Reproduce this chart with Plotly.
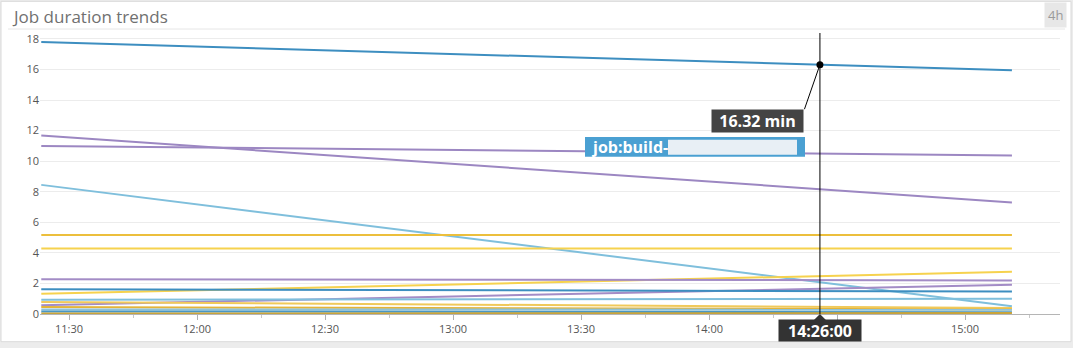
import numpy as np
import pandas as pd
import plotly.graph_objects as go

# ---------------- data ----------------
t_start = "2024-05-14 11:23:30"
t_end = "2024-05-14 15:11:00"
hover_time = "2024-05-14 14:26:00"

series_start = [17.80, 11.68, 11.00, 8.45, 5.17, 4.28, 1.32, 2.27, 0.58, 1.62, 0.93, 0.78, 0.45, 0.30, 0.17, 0.03]
series_end = [15.95, 7.30, 10.38, 0.50, 5.17, 4.28, 2.77, 2.20, 1.92, 1.47, 0.99, 0.40, 0.30, 0.28, 0.12, 0.06]
series_color = ["#3d8ec0", "#9c87c2", "#9c87c2", "#7fbfdc", "#ecbf3c", "#f6d24e",
                "#f6d24e", "#a38cc6", "#a38cc6", "#3d8ec0", "#7fbfdc", "#f0c95a",
                "#e3b43a", "#8fc3d8", "#4a97c4", "#c9a43a"]
hover_series = 0  # index of the series under the cursor

x_tick_times = ["11:30", "12:00", "12:30", "13:00", "13:30", "14:00", "14:30", "15:00"]

# ---------------- layout geometry ----------------
W, H = 1073, 348
L, R, T, B = 40, 13, 33, 31
PW, PH = W - L - R, H - T - B


def px(x):
    return (x - L) / PW


def py(y):
    return (H - B - y) / PH


times = pd.to_datetime([t_start, t_end])
fig = go.Figure()
for s, e, c in zip(series_start, series_end, series_color):
    fig.add_trace(go.Scatter(x=times, y=[s, e], mode="lines",
                             line=dict(color=c, width=2), hoverinfo="skip",
                             showlegend=False))

# hover point, interpolated on the hovered series
ht = pd.Timestamp(hover_time)
tnum = times.astype("int64").to_numpy()
hv = float(np.interp(ht.value, tnum, [series_start[hover_series], series_end[hover_series]]))
fig.add_trace(go.Scatter(x=[ht], y=[hv], mode="markers",
                         marker=dict(color="black", size=7), showlegend=False,
                         hoverinfo="skip", cliponaxis=False))

day = "2024-05-14 "
tickvals = [pd.Timestamp(day + t) for t in x_tick_times]
# the label under the time box is hidden by it in the reference
ticktext = ["" if abs((tv - ht).total_seconds()) < 20 * 60 else t for tv, t in zip(tickvals, x_tick_times)]

shapes = [
    # card
    dict(type="rect", xref="paper", yref="paper", x0=px(1), x1=px(1071), y0=py(345), y1=py(1),
         fillcolor="white", line=dict(color="#dadada", width=1), layer="below"),
    # title separator
    dict(type="line", xref="paper", yref="paper", x0=px(8), x1=px(1065), y0=py(29), y1=py(29),
         line=dict(color="#e6e6e6", width=1)),
    # crosshair
    dict(type="line", xref="x", yref="paper", x0=ht, x1=ht, y0=0, y1=1,
         line=dict(color="black", width=1)),
    # series name box
    dict(type="rect", xref="paper", yref="paper", x0=px(585), x1=px(805), y0=py(158), y1=py(138),
         fillcolor="#4aa0d2", line=dict(width=0)),
    # blurred part of the series name
    dict(type="rect", xref="paper", yref="paper", x0=px(668), x1=px(797), y0=py(156), y1=py(141),
         fillcolor="rgba(238,242,246,0.96)", line=dict(width=0)),
    # pointer triangle of time label
    dict(type="path", xref="x", xsizemode="pixel", xanchor=ht,
         yref="paper", ysizemode="pixel", yanchor=py(323),
         path="M-6,0 L6,0 L0,6 Z", fillcolor="#333333", line=dict(width=0)),
]

annotations = [
    dict(text="Job duration trends", xref="paper", yref="paper", x=px(10), y=py(16),
         xanchor="left", yanchor="middle", showarrow=False,
         font=dict(family="Open Sans", size=17, color="#707070")),
    dict(text="4h", xref="paper", yref="paper", x=px(1055), y=py(15),
         xanchor="center", yanchor="middle", showarrow=False, bgcolor="#e7e7e7",
         borderpad=3, font=dict(family="Open Sans", size=13, color="#9a9a9a")),
    # connector from the point to the value box
    dict(text="", x=ht, y=hv, xref="x", yref="y", showarrow=True, arrowhead=0,
         arrowwidth=1, arrowcolor="black", ax=-16, ay=46, standoff=0),
    dict(text=f"<b>{hv:.2f} min</b>", xref="paper", yref="paper", x=px(757.5), y=py(122),
         xanchor="center", yanchor="middle", showarrow=False, bgcolor="#444444",
         width=87, height=18, borderpad=2,
         font=dict(family="Open Sans", size=16, color="white")),
    dict(text="<b>job:build-</b>", xref="paper", yref="paper", x=px(589), y=py(148),
         xanchor="left", yanchor="middle", showarrow=False,
         font=dict(family="Open Sans", size=16, color="white")),
    dict(text="<b>" + ht.strftime("%H:%M:%S") + "</b>", xref="x", yref="paper", x=ht, y=py(333.5),
         xanchor="center", yanchor="middle", showarrow=False, bgcolor="#333333",
         width=78, height=17, borderpad=2,
         font=dict(family="Open Sans", size=16, color="white")),
]

fig.update_layout(
    width=W, height=H, autosize=False,
    margin=dict(l=L, r=R, t=T, b=B, pad=0),
    paper_bgcolor="#ececec", plot_bgcolor="rgba(0,0,0,0)",
    shapes=shapes, annotations=annotations,
    font=dict(family="Open Sans", size=11, color="#555"),
    xaxis=dict(type="date", range=["2024-05-14 11:23:12", "2024-05-14 15:22:16"],
               tickmode="array", tickvals=tickvals, ticktext=ticktext,
               showgrid=False, showline=True, linecolor="#b5b5b5", linewidth=1,
               ticks="outside", ticklen=5, tickcolor="#b0b0b0",
               minor=dict(ticks="outside", ticklen=3, tickcolor="#c8c8c8",
                          tickmode="linear",
                          tick0="2024-05-14 11:15", dtick=900000, showgrid=False),
               tickfont=dict(size=11, color="#555"), zeroline=False, fixedrange=True),
    yaxis=dict(range=[0, 18.39], dtick=2, tick0=0, showgrid=True, gridcolor="#ececec",
               zeroline=False, showline=False, ticks="",
               tickfont=dict(size=11, color="#555"), fixedrange=True),
)

fig.write_html("out.html", config=dict(displayModeBar=False))
